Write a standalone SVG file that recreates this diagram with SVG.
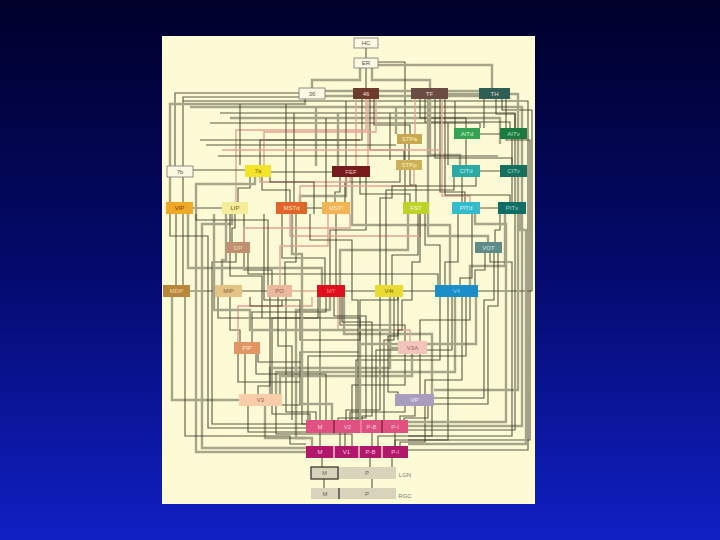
<svg xmlns="http://www.w3.org/2000/svg" width="720" height="540" viewBox="0 0 720 540">
<defs>
<linearGradient id="bg" x1="0" y1="0" x2="0" y2="1">
<stop offset="0" stop-color="#00002a"/>
<stop offset="0.5" stop-color="#040a6c"/>
<stop offset="1" stop-color="#1020c4"/>
</linearGradient>
<style>
.d{fill:none;stroke:#3d3d2e;stroke-width:1.1;stroke-opacity:.85}
.g{fill:none;stroke:#a6a489;stroke-width:2.4}
.p{fill:none;stroke:#e2a494;stroke-width:1.4}
.n text{font-family:"Liberation Sans",Arial,sans-serif;font-size:6px;text-anchor:middle;dominant-baseline:central}
.w rect{fill:#fbf9e2;stroke:#777;stroke-width:.8}
.w text{fill:#555}
.lt text{fill:#f3dcd2}
.lab{font-family:"Liberation Sans",Arial,sans-serif;font-size:6px;fill:#777}
</style>
</defs>
<rect width="720" height="540" fill="url(#bg)"/>
<rect x="162" y="36" width="373" height="468" fill="#fdfbd6"/>

<g id="connectors">
<path class="d" d="M366,48V58"/>
<path class="d" d="M366,68V88"/>
<path class="g" d="M360,68V80H312V88"/>
<path class="g" d="M372,68V80H430V88"/>
<path class="d" d="M378,62H405V202"/>
<path class="g" d="M378,65H492V88"/>
<path class="g" d="M325,91H353M325,96H353M379,91H411M379,96H411M448,91H479M448,96H479"/>
<path class="d" d="M299,93H175V166"/>
<path class="d" d="M300,97H183V285"/>
<path class="g" d="M305,99V104H170V202"/>
<path class="d" d="M183,101H528V450H408"/>
<path class="g" d="M190,107H522V426H408"/>
<path class="d" d="M220,113H515V430H408"/>
<path class="g" d="M230,118H500V144"/>
<path class="d" d="M210,123H480V128"/>
<path class="p" d="M356,99V166"/>
<path class="p" d="M368,99V166"/>
<path class="d" d="M362,99V140H260V165"/>
<path class="p" d="M366,99V130H236V202"/>
<path class="d" d="M370,99V150H404V160"/>
<path class="d" d="M374,99V125H410V134"/>
<path class="p" d="M264,165V132H376V99"/>
<path class="p" d="M415,99V134"/>
<path class="d" d="M420,99V118H466V128"/>
<path class="d" d="M425,99V122H510V128"/>
<path class="g" d="M430,99V155H460V165"/>
<path class="d" d="M435,99V158H512V165"/>
<path class="d" d="M440,99V192H465V202"/>
<path class="p" d="M442,99V196H470V202"/>
<path class="d" d="M445,99V195H510V202"/>
<path class="g" d="M428,99V236H488V242"/>
<path class="d" d="M484,99V128"/>
<path class="d" d="M496,99V114H515V128"/>
<path class="d" d="M502,99V110H532V291H478"/>
<path class="g" d="M448,94H518V390H434"/>
<path class="d" d="M506,99V140H530V440H408"/>
<path class="d" d="M466,139V165M512,139V165M480,134H500M409,144V160"/>
<path class="d" d="M250,177V188H238V202"/>
<path class="d" d="M262,177V190H290V202"/>
<path class="d" d="M271,172H332M193,170H245"/>
<path class="d" d="M340,177V192H335V202"/>
<path class="g" d="M346,177V196H300V202"/>
<path class="d" d="M360,177V194H410V202"/>
<path class="d" d="M366,177V230H330V285"/>
<path class="g" d="M352,177V225H450V285"/>
<path class="d" d="M410,170V185H416V202"/>
<path class="d" d="M400,170V182H345V202"/>
<path class="d" d="M462,177V202M512,177V202M480,171H500M480,208H498"/>
<path class="d" d="M458,214V262H445V285"/>
<path class="g" d="M505,214V266H470V285"/>
<path class="d" d="M485,253V270H475V285"/>
<path class="d" d="M500,214V230H495V242"/>
<path class="d" d="M307,208H322M193,208H222"/>
<path class="d" d="M235,214V228H232V242"/>
<path class="g" d="M226,214V260H222V285"/>
<path class="d" d="M244,214V270H272V285"/>
<path class="d" d="M176,214V285"/>
<path class="g" d="M188,214V268H322V285"/>
<path class="d" d="M282,214V258H325V285"/>
<path class="d" d="M296,214V262H285V285"/>
<path class="d" d="M336,214V285"/>
<path class="g" d="M408,214V250H340V285"/>
<path class="d" d="M418,214V255H392V285"/>
<path class="d" d="M425,214V245H440V285"/>
<path class="d" d="M345,291H375M403,291H435M190,291H215M242,291H267"/>
<path class="p" d="M292,291H317"/>
<path class="d" d="M248,253V274H438V285"/>
<path class="d" d="M320,297V420"/>
<path class="g" d="M330,297V310H296V438H312V446"/>
<path class="d" d="M318,297V318H272V394"/>
<path class="d" d="M340,297V325H405V341"/>
<path class="d" d="M326,297V312H252V342"/>
<path class="g" d="M344,297V334H432V394"/>
<path class="d" d="M440,297V360H356V420"/>
<path class="d" d="M448,297V440H395V446"/>
<path class="g" d="M455,297V372H276V394"/>
<path class="d" d="M462,297V380H425V394"/>
<path class="d" d="M470,297V320H420V341"/>
<path class="d" d="M380,297V410H346V420"/>
<path class="g" d="M390,297V368H270V394"/>
<path class="d" d="M286,297V412H316V420"/>
<path class="d" d="M270,297V386H258V394"/>
<path class="d" d="M230,297V330H240V342"/>
<path class="g" d="M172,297V400H239"/>
<path class="d" d="M245,354V394"/>
<path class="d" d="M258,354V362H302V424H306"/>
<path class="d" d="M405,354V385H352V420"/>
<path class="g" d="M412,354V376H280V394"/>
<path class="d" d="M420,354V394"/>
<path class="d" d="M272,406V414H310V420"/>
<path class="g" d="M265,406V438H306"/>
<path class="d" d="M405,406V412H350V420"/>
<path class="d" d="M425,406V442H400V446"/>
<path class="d" d="M320,433V446M345,433V446M372,433V446M395,433V446"/>
<path class="d" d="M322,458V467M370,458V467M392,458V472H396"/>
<path class="d" d="M324,479V488M372,479V488"/>
<path class="g" d="M255,177V184H196V452H306"/>
<path class="g" d="M232,214V224H202V448H306"/>
<path class="d" d="M170,214V236H208V428H306"/>
<path class="d" d="M236,253V262H212V424H306"/>
<path class="d" d="M185,297V436H290V444H306"/>
<path class="g" d="M520,214V230H526V444H408"/>
<path class="d" d="M490,253V262H512V436H408"/>
<path class="g" d="M475,214V224H506V422H408"/>
<path class="p" d="M300,202V186H414V170"/>
<path class="p" d="M244,242V228H350V214"/>
<path class="p" d="M290,214V236H420V214"/>
<path class="p" d="M350,177V182H260V177"/>
<path class="p" d="M328,214V246H280V285"/>
<path class="p" d="M312,297V306H238V342"/>
<path class="p" d="M338,297V330H410V341"/>
<path class="d" d="M218,297V318H360V352H300V405H282"/>
<path class="d" d="M264,214V300H300V340H360V300H398V297"/>
<path class="g" d="M214,214V310H250V330H390V348H398"/>
<path class="d" d="M240,104V165"/>
<path class="d" d="M286,104V202"/>
<path class="g" d="M316,107V166"/>
<path class="d" d="M390,113V160"/>
<path class="d" d="M455,101V128"/>
<path class="d" d="M334,297V316H366V418H338V420"/>
<path class="d" d="M342,297V322H372V416H362V420"/>
<path class="d" d="M394,297V340H384V420"/>
<path class="d" d="M398,297V336H388V392H398V394"/>
<path class="d" d="M452,297V350H376V420"/>
<path class="g" d="M476,297V344H360V420"/>
<path class="d" d="M466,297V356H308V420"/>
<path class="d" d="M278,297V346H292V420"/>
<path class="d" d="M256,354V374H326V420"/>
<path class="d" d="M238,354V382H300"/>
<path class="d" d="M250,297V306H282V300"/>
<path class="g" d="M292,214V254H302V404H332V420"/>
<path class="d" d="M310,214V240H352V300H358V420"/>
<path class="d" d="M420,214V262H412V300H402V330H398V340"/>
<path class="d" d="M494,253V300H484V398H434"/>
<path class="d" d="M498,253V306H488V404H434"/>
<path class="d" d="M472,214V278H460V285"/>
<path class="d" d="M415,406V416H400V420"/>
<path class="d" d="M248,406V432H340V446"/>
<path class="d" d="M276,406V434H352V446"/>
<path class="d" d="M428,406V418H404V420"/>
<path class="d" d="M432,406V436H378V446"/>
<path class="d" d="M230,214V276H262V318"/>
<path class="d" d="M196,214V220H268V285"/>
<path class="d" d="M270,177V182H314V214"/>
<path class="d" d="M476,177V186H392V198H380V285"/>
<path class="d" d="M454,177V190H386V285"/>
<path class="g" d="M338,113V166"/>
<path class="d" d="M346,101V166"/>
<path class="d" d="M294,113V202"/>
<path class="d" d="M326,118V202"/>
<path class="d" d="M448,123V165"/>
<path class="g" d="M396,107V134"/>
<path class="d" d="M200,140H360"/>
<path class="d" d="M206,145H396"/>
<path class="p" d="M222,150H440"/>
<path class="d" d="M218,156H498"/>
</g>

<g id="HC" class="n w"><rect x="354" y="38" width="24" height="10"/><text x="366" y="43">HC</text></g>
<g id="ER" class="n w"><rect x="354" y="58" width="24" height="10"/><text x="366" y="63">ER</text></g>
<g id="n36" class="n w"><rect x="299" y="88" width="26" height="11"/><text x="312" y="93.5">36</text></g>
<g id="n46" class="n lt"><rect x="353" y="88" width="26" height="11" fill="#6e3a2c"/><text x="366" y="93.5">46</text></g>
<g id="TF" class="n lt"><rect x="411" y="88" width="37" height="11" fill="#6a4c44"/><text x="429.5" y="93.5">TF</text></g>
<g id="TH" class="n lt"><rect x="479" y="88" width="31" height="11" fill="#2f5e55"/><text x="494.5" y="93.5">TH</text></g>
<g id="STPa" class="n"><rect x="397" y="134" width="25" height="10" fill="#c8a850"/><text x="409.5" y="139" fill="#fff0c0">STPa</text></g>
<g id="AITd" class="n"><rect x="454" y="128" width="26" height="11" fill="#34a454"/><text x="467" y="133.5" fill="#d0f0d0">AITd</text></g>
<g id="AITv" class="n"><rect x="500" y="128" width="27" height="11" fill="#1c7a40"/><text x="513.5" y="133.5" fill="#b0e0c0">AITv</text></g>
<g id="n7b" class="n w"><rect x="167" y="166" width="26" height="11"/><text x="180" y="171.5">7b</text></g>
<g id="n7a" class="n"><rect x="245" y="165" width="26" height="12" fill="#f2e428"/><text x="258" y="171" fill="#806000">7a</text></g>
<g id="FEF" class="n"><rect x="332" y="166" width="38" height="11" fill="#761c1c"/><text x="351" y="171.5" fill="#f0c0c0">FEF</text></g>
<g id="STPp" class="n"><rect x="396" y="160" width="26" height="10" fill="#cdb058"/><text x="409" y="165" fill="#fff0c0">STPp</text></g>
<g id="CITd" class="n"><rect x="452" y="165" width="28" height="12" fill="#2aaaa4"/><text x="466" y="171" fill="#c0f0f0">CITd</text></g>
<g id="CITv" class="n"><rect x="500" y="165" width="27" height="12" fill="#17705e"/><text x="513.5" y="171" fill="#a0d8c8">CITv</text></g>
<g id="VIP" class="n"><rect x="166" y="202" width="27" height="12" fill="#f0a828"/><text x="179.5" y="208" fill="#804000">VIP</text></g>
<g id="LIP" class="n"><rect x="222" y="202" width="26" height="12" fill="#f4ec98"/><text x="235" y="208" fill="#806020">LIP</text></g>
<g id="MSTd" class="n"><rect x="276" y="202" width="31" height="12" fill="#e0652a"/><text x="291.5" y="208" fill="#ffe0c0">MSTd</text></g>
<g id="MSTl" class="n"><rect x="322" y="202" width="28" height="12" fill="#f2b454"/><text x="336" y="208" fill="#fff0c8">MSTl</text></g>
<g id="FST" class="n"><rect x="403" y="202" width="26" height="12" fill="#bcd42a"/><text x="416" y="208" fill="#f8ffd0">FST</text></g>
<g id="PITd" class="n"><rect x="452" y="202" width="28" height="12" fill="#34bccc"/><text x="466" y="208" fill="#d0f8ff">PITd</text></g>
<g id="PITv" class="n"><rect x="498" y="202" width="28" height="12" fill="#0e6e66"/><text x="512" y="208" fill="#a0d8d0">PITv</text></g>
<g id="DP" class="n"><rect x="226" y="242" width="24" height="11" fill="#c09070"/><text x="238" y="247.5" fill="#f0d8c0">DP</text></g>
<g id="VOT" class="n"><rect x="475" y="242" width="27" height="11" fill="#5e8a88"/><text x="488.5" y="247.5" fill="#d0e8e8">VOT</text></g>
<g id="MDP" class="n"><rect x="163" y="285" width="27" height="12" fill="#b8863c"/><text x="176.5" y="291" fill="#f0d8a8">MDP</text></g>
<g id="MIP" class="n"><rect x="215" y="285" width="27" height="12" fill="#e2c486"/><text x="228.5" y="291" fill="#906030">MIP</text></g>
<g id="PO" class="n"><rect x="267" y="285" width="25" height="12" fill="#eab89c"/><text x="279.5" y="291" fill="#906050">PO</text></g>
<g id="MT" class="n"><rect x="317" y="285" width="28" height="12" fill="#de1020"/><text x="331" y="291" fill="#ff8080">MT</text></g>
<g id="V4t" class="n"><rect x="375" y="285" width="28" height="12" fill="#e8dc34"/><text x="389" y="291" fill="#806000">V4t</text></g>
<g id="V4" class="n"><rect x="435" y="285" width="43" height="12" fill="#1a8ec8"/><text x="456.5" y="291" fill="#80c8f0">V4</text></g>
<g id="PIP" class="n"><rect x="234" y="342" width="26" height="12" fill="#e29462"/><text x="247" y="348" fill="#fff0d0">PIP</text></g>
<g id="V3A" class="n"><rect x="398" y="341" width="29" height="13" fill="#f2c4bc"/><text x="412.5" y="347.5" fill="#a06060">V3A</text></g>
<g id="V3" class="n"><rect x="239" y="394" width="43" height="12" fill="#f9ccaa"/><text x="260.5" y="400" fill="#906050">V3</text></g>
<g id="VP" class="n"><rect x="395" y="394" width="39" height="12" fill="#a69ebc"/><text x="414.5" y="400" fill="#f0f0ff">VP</text></g>
<g id="V2" class="n">
<rect x="306" y="420" width="102" height="13" fill="#e05080"/>
<path d="M334,420V433M382,420V433" stroke="#5a1030" stroke-width="1"/>
<path d="M361,420V433" stroke="#f4a0c0" stroke-width="1"/>
<text x="320" y="426.5" fill="#ffd0e0">M</text><text x="347.5" y="426.5" fill="#ffd0e0">V2</text><text x="371.5" y="426.5" fill="#ffd0e0">P-B</text><text x="395" y="426.5" fill="#ffd0e0">P-I</text>
</g>
<g id="V1" class="n">
<rect x="306" y="446" width="102" height="12" fill="#b0186c"/>
<path d="M334,446V458M359,446V458M382,446V458" stroke="#fdfbd6" stroke-width="1.2"/>
<text x="320" y="452" fill="#ffc0e0">M</text><text x="346.5" y="452" fill="#ffc0e0">V1</text><text x="370.5" y="452" fill="#ffc0e0">P-B</text><text x="395" y="452" fill="#ffc0e0">P-I</text>
</g>
<g id="LGN" class="n">
<rect x="338" y="467" width="58" height="12" fill="#d8d4bc"/>
<rect x="311" y="467" width="27" height="12" fill="#d8d4bc" stroke="#3a3a30" stroke-width="1.3"/>
<text x="324.5" y="473" fill="#666">M</text><text x="367" y="473" fill="#666">P</text>
<text class="lab" x="405" y="475">LGN</text>
</g>
<g id="RGC" class="n">
<rect x="311" y="488" width="85" height="11" fill="#d8d4bc"/>
<path d="M339,488V499" stroke="#3a3a30" stroke-width="1.3"/>
<text x="325" y="493.5" fill="#666">M</text><text x="367" y="493.5" fill="#666">P</text>
<text class="lab" x="405" y="496">RGC</text>
</g>
</svg>
